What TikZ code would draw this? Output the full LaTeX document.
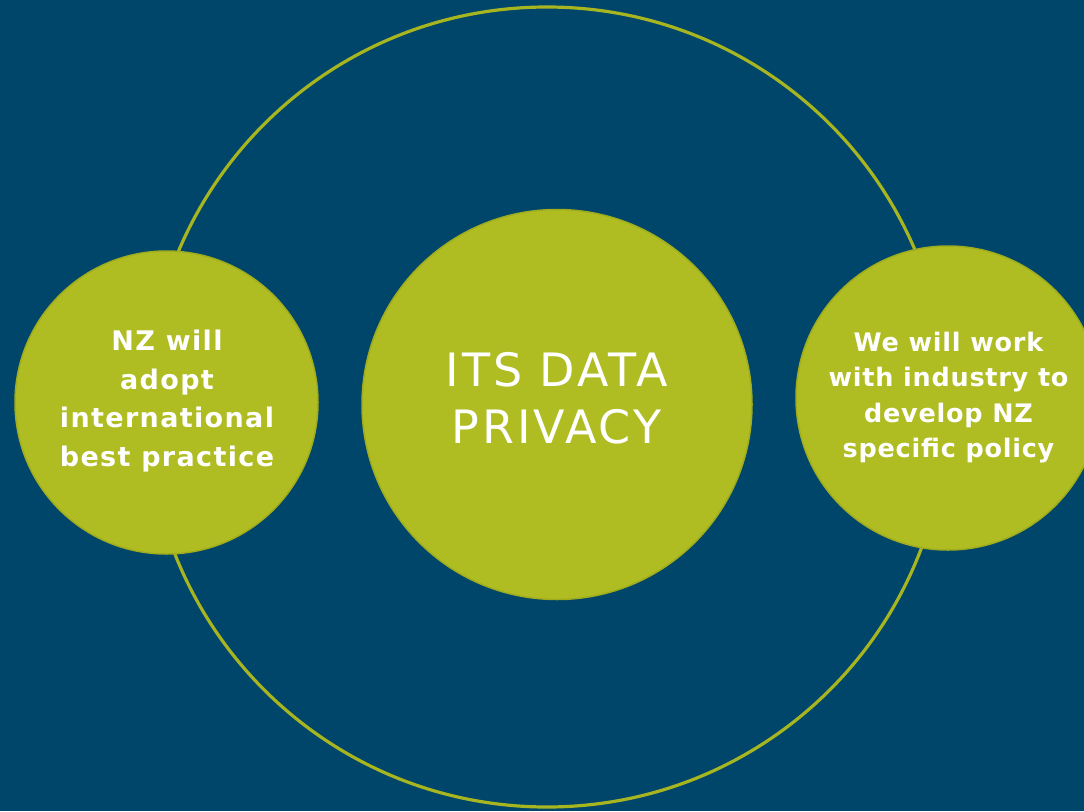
\documentclass[tikz,border=0pt]{standalone}
\usepackage{fontspec}
\setmainfont{DejaVu Sans}
\begin{document}
\begin{tikzpicture}[x=1pt,y=-1pt,
  bubble/.style={circle, fill=lime, draw=limeedge, line width=1.5pt, inner sep=0pt},
  bubtext/.style={text=white, align=center, inner sep=0pt},
  ring/.style={draw=ringcol, line width=3.2pt}]
\definecolor{bg}{HTML}{00456A}
\definecolor{lime}{HTML}{AFBD22}
\definecolor{limeedge}{HTML}{9EAC1E}
\definecolor{ringcol}{HTML}{A7B520}
\fill[bg] (0,0) rectangle (1084,811);
\useasboundingbox (0,0) rectangle (1084,811);
\node[ring, circle, minimum size=800pt, inner sep=0pt] (outer) at (547,407) {};
\node[bubble, minimum size=390pt] (centre) at (557,404.5) {};
\node[bubble, minimum size=303pt] (left) at (166.5,402.5) {};
\node[bubble, minimum size=304pt] (right) at (948,398) {};
\node[bubtext, font={\addfontfeatures{LetterSpace=6.5}\fontsize{46}{57}\selectfont}] (ct) at (556.5,398) {ITS DATA\\PRIVACY};
\node[bubtext, font={\bfseries\addfontfeatures{LetterSpace=5}\fontsize{27}{38.5}\selectfont}] (lt) at (167,401) {NZ will\\adopt\\international\\best practice};
\node[bubtext, font={\bfseries\addfontfeatures{LetterSpace=3}\fontsize{25.5}{35.5}\selectfont}] (rt) at (948.5,397.5) {We will work\\with industry to\\develop NZ\\specific policy};
\end{tikzpicture}
\end{document}
